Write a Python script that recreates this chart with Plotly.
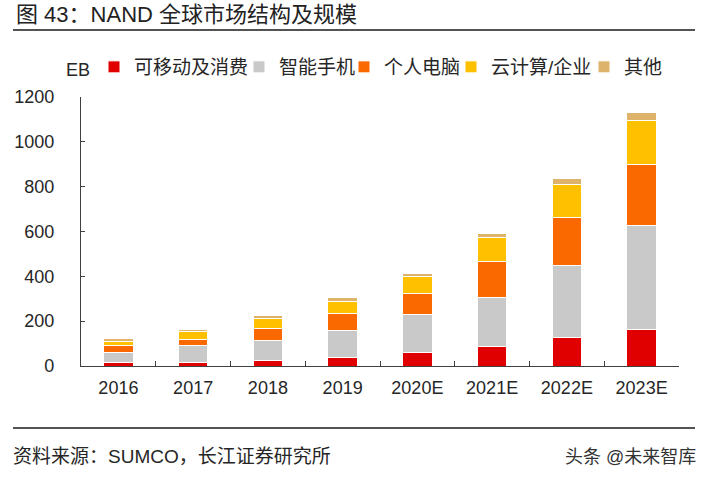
import plotly.graph_objects as go

categories = ["2016", "2017", "2018", "2019", "2020E", "2021E", "2022E", "2023E"]
mobile = [17, 17, 25, 36, 61, 87, 127, 165]
smartphone = [44, 74, 88, 124, 169, 220, 322, 464]
pc = [30, 28, 53, 73, 92, 158, 213, 271]
cloud = [19, 33, 44, 55, 78, 107, 149, 194]
other = [14, 12, 17, 16, 11, 17, 27, 39]

series_names = ["可移动及消费", "智能手机", "个人电脑", "云计算/企业", "其他"]
series_values = [mobile, smartphone, pc, cloud, other]
series_colors = ["#E00000", "#C9C9C9", "#F96900", "#FFC000", "#DDB36C"]

FONT = "Liberation Sans, Noto Sans CJK SC, sans-serif"

W, H = 707, 478
PX0, PX1 = 81, 679      # plot area in px
PY0, PY1 = 97, 366
L, T = PX0, PY0
R, B = W - PX1, H - PY1
PW, PH = PX1 - PX0, PY1 - PY0


def fx(px):
    return (px - PX0) / PW


def fy(py):
    return (PY1 - py) / PH


fig = go.Figure()
legend_ids = ["legend", "legend2", "legend3", "legend4", "legend5"]
for name, vals, color, lid in zip(series_names, series_values, series_colors, legend_ids):
    fig.add_trace(go.Bar(
        x=categories, y=vals, name=name, legend=lid,
        marker=dict(color=color, line=dict(color="white", width=1)),
    ))

text_starts = [135, 280, 385, 492, 625]
legend_layout = {}
for lid, ts in zip(legend_ids, text_starts):
    legend_layout[lid] = dict(
        orientation="h", x=fx(ts - 41), xanchor="left", y=fy(67), yanchor="middle",
        font=dict(size=19, color="#262626"), bgcolor="rgba(0,0,0,0)",
        borderwidth=0, itemclick=False, itemdoubleclick=False,
    )

fig.update_layout(
    width=W, height=H,
    margin=dict(l=L, r=R, t=T, b=B),
    barmode="stack",
    bargap=0.605,
    plot_bgcolor="white",
    paper_bgcolor="white",
    font=dict(family=FONT, color="#262626", size=18),
    showlegend=True,
    **legend_layout,
    xaxis=dict(
        range=[-0.5, 7.5], showline=True, linecolor="#404040", linewidth=1.2,
        ticks="inside", tickson="boundaries", ticklen=5, tickcolor="#404040",
        tickfont=dict(size=18, color="#262626"), showgrid=False,
        ticklabelstandoff=5,
    ),
    yaxis=dict(
        range=[0, 1200], dtick=200, showline=True, linecolor="#404040", linewidth=1.2,
        ticks="inside", ticklen=4, tickcolor="#404040", showgrid=False,
        tickfont=dict(size=18, color="#262626"), ticklabelstandoff=22, zeroline=False,
    ),
    annotations=[
        dict(text="图 43：NAND 全球市场结构及规模", xref="paper", yref="paper",
             x=fx(14), y=fy(15), xanchor="left", yanchor="middle",
             showarrow=False, font=dict(size=22, color="#222222")),
        dict(text="EB", xref="paper", yref="paper",
             x=fx(64), y=fy(70), xanchor="left", yanchor="middle",
             showarrow=False, font=dict(size=18, color="#262626")),
        dict(text="资料来源：SUMCO，长江证券研究所", xref="paper", yref="paper",
             x=fx(11), y=fy(457), xanchor="left", yanchor="middle",
             showarrow=False, font=dict(size=19, color="#262626")),
        dict(text="头条 @未来智库", xref="paper", yref="paper",
             x=fx(698), y=fy(457), xanchor="right", yanchor="middle",
             showarrow=False, font=dict(size=18, color="#333333")),
    ],
    shapes=[
        dict(type="line", xref="paper", yref="paper",
             x0=fx(13), x1=fx(695), y0=fy(30), y1=fy(30),
             line=dict(color="#1a1a1a", width=1.5)),
        dict(type="line", xref="paper", yref="paper",
             x0=fx(13), x1=fx(695), y0=fy(428), y1=fy(428),
             line=dict(color="#1a1a1a", width=1.5)),
    ],
)

fig.write_html("out.html", config={"displayModeBar": False},
               post_script="document.body.style.margin='0px';")
